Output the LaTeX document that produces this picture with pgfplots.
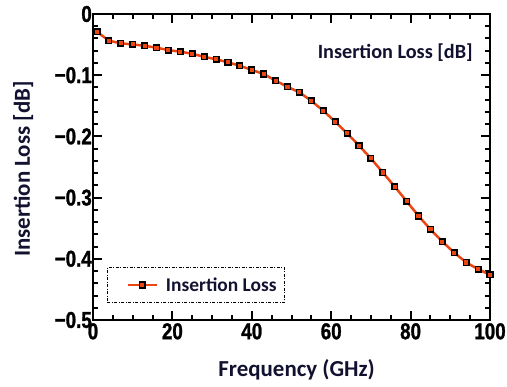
\documentclass[border=0pt]{standalone}
\usepackage{fontspec}
\setmainfont{Carlito}
\newfontfamily\tickfont[FakeStretch=0.82, BoldFeatures={FakeBold=1.2}]{Liberation Sans}
\usepackage{pgfplots}
\pgfplotsset{compat=1.18}
\definecolor{txt}{RGB}{18,18,48}
\definecolor{lred}{RGB}{235,70,18}
\pgfplotstableread{
x y
1 -0.029
4 -0.0436
7 -0.048
10 -0.0496
13 -0.052
16 -0.055
19 -0.059
22 -0.0616
25 -0.065
28 -0.070
31 -0.074
34 -0.079
37 -0.0845
40 -0.0915
43 -0.098
46 -0.109
49 -0.119
52 -0.128
55 -0.142
58 -0.158
61 -0.176
64 -0.195
67 -0.215
70 -0.236
73 -0.259
76 -0.282
79 -0.306
82 -0.330
85 -0.352
88 -0.372
91 -0.390
94 -0.406
97 -0.417
100 -0.426
}\loss
\begin{document}
\begin{tikzpicture}
\useasboundingbox (0,0) rectangle (507bp,387bp);
\begin{axis}[
  at={(93bp,67bp)}, anchor=south west,
  scale only axis, width=397bp, height=306bp,
  xmin=0, xmax=100, ymin=-0.5, ymax=0,
  xtick={0,20,...,100}, minor x tick num=3,
  ytick={-0.5,-0.4,-0.3,-0.2,-0.1,0},
  yticklabels={−0.5,−0.4,−0.3,−0.2,−0.1,0},
  minor y tick num=4,
  tick align=inside,
  major tick length=9bp, minor tick length=5bp,
  every tick/.style={black, line width=2bp},
  axis line style={line width=2.5bp},
  /pgf/number format/assume math mode=true,
  tick label style={font=\tickfont\bfseries\fontsize{23}{23}\selectfont, text=black},
  xticklabel style={inner sep=1bp, yshift=-2bp},
  yticklabel style={inner sep=1bp},
  xlabel={Frequency (GHz)},
  ylabel={Insertion Loss [dB]},
  label style={font=\bfseries\fontsize{23}{23}\selectfont, text=txt},
  xlabel style={at={(axis description cs:0.513,-0.185)}, anchor=base},
  ylabel style={at={(axis description cs:-0.176,0.493)}, anchor=center},
  legend style={at={(0.035,0.055)}, anchor=south west, draw=black, line width=1.2bp,
    dash pattern=on 3bp off 1.5bp on 1bp off 1.5bp,
    inner xsep=4bp, inner ysep=8bp,
    font=\bfseries\fontsize{19.5}{19.5}\selectfont, text=txt,
    nodes={inner xsep=4bp, inner ysep=2bp}},
  legend image code/.code={\path (0bp,0bp) (48bp,0bp); \draw[mark repeat=2,mark phase=2,#1] plot coordinates {(15bp,0bp) (29.5bp,0bp) (44bp,0bp)};},
]
\addplot[lred, line width=2.5bp, mark=square*, mark size=2.8bp,
  mark options={fill=lred, draw=black, line width=1.5bp, solid}] table[x=x,y=y] {\loss};
\addlegendentry{Insertion Loss}
\node[anchor=base east, inner sep=0pt, font=\bfseries\fontsize{20.3}{20.3}\selectfont, text=txt]
  at (rel axis cs:0.957,0.853) {Insertion Loss [dB]};
\end{axis}
\end{tikzpicture}
\end{document}
